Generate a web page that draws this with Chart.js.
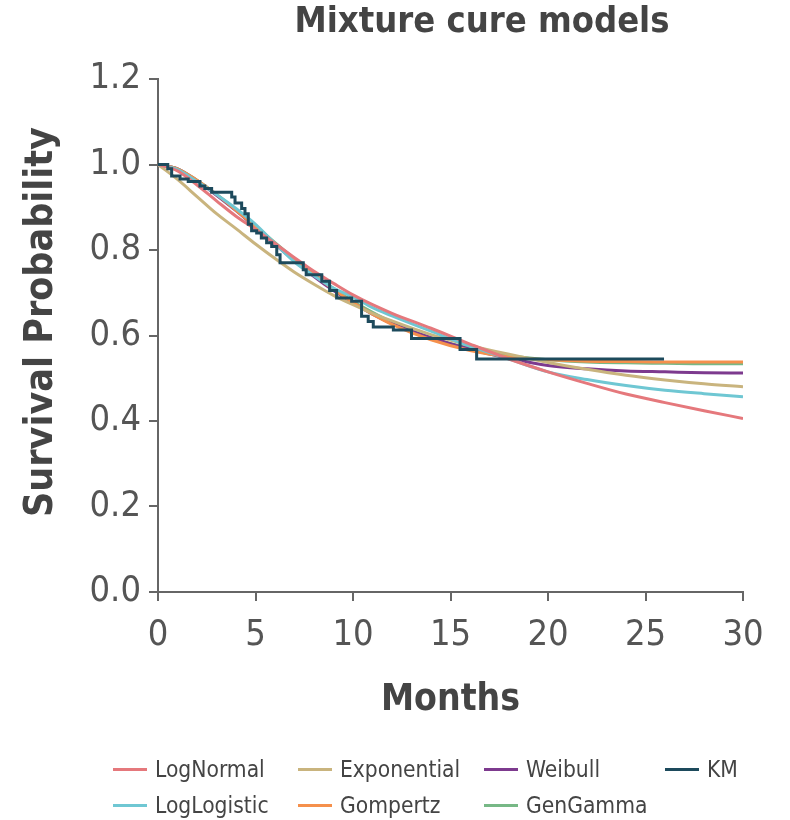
<!DOCTYPE html>
<html>
<head>
<meta charset="utf-8">
<script src="https://cdn.jsdelivr.net/npm/chart.js@4.4.1/dist/chart.umd.min.js"></script>
<style>
    body { margin: 0; background: #fff; }
    #wrap { position: relative; width: 790px; height: 820px; }
    #legend { position: absolute; left: 0; top: 0; width: 790px; height: 820px; pointer-events: none; }
    .item { position: absolute; display: flex; align-items: center; font-family: 'DejaVu Sans Condensed', 'DejaVu Sans', sans-serif; font-size: 22.6px; color: #444; }
    .item span.line { display: inline-block; width: 34px; height: 3px; margin-right: 8px; }
</style>
</head>
<body>
<div id="wrap">
    <canvas id="chart" width="790" height="820"></canvas>
    <div id="legend"></div>
</div>
<script>
// sample times (months) for the fitted curves
const months = [0, 1, 2, 3, 4, 5, 6, 7, 8, 9, 10, 11, 12, 14, 16, 18, 20, 22, 24, 26, 28, 30];

const logNormal   = [1, 0.985, 0.952, 0.915, 0.879, 0.848, 0.815, 0.782, 0.75, 0.722, 0.695, 0.672, 0.652, 0.617, 0.58, 0.545, 0.515, 0.488, 0.463, 0.443, 0.424, 0.406];
const logLogistic = [1, 0.988, 0.96, 0.93, 0.897, 0.86, 0.815, 0.772, 0.74, 0.711, 0.69, 0.665, 0.646, 0.61, 0.575, 0.545, 0.515, 0.497, 0.483, 0.472, 0.464, 0.457];
const exponential = [1, 0.965, 0.925, 0.885, 0.85, 0.814, 0.78, 0.748, 0.72, 0.694, 0.672, 0.652, 0.634, 0.602, 0.577, 0.556, 0.537, 0.521, 0.507, 0.496, 0.487, 0.48];
const gompertz    = [1, 0.99, 0.963, 0.93, 0.893, 0.855, 0.815, 0.778, 0.742, 0.708, 0.677, 0.65, 0.626, 0.59, 0.565, 0.55, 0.543, 0.54, 0.539, 0.538, 0.538, 0.538];
const weibull     = [1, 0.99, 0.962, 0.928, 0.892, 0.853, 0.813, 0.775, 0.738, 0.705, 0.676, 0.65, 0.628, 0.595, 0.568, 0.547, 0.53, 0.522, 0.517, 0.515, 0.513, 0.512];
const genGamma    = [1, 0.99, 0.963, 0.93, 0.894, 0.856, 0.817, 0.779, 0.743, 0.71, 0.68, 0.654, 0.631, 0.595, 0.57, 0.553, 0.543, 0.538, 0.536, 0.535, 0.534, 0.534];

// Kaplan-Meier steps: event times and survival after each event
const kmTimes = [0, 0.5, 0.7, 1.13, 1.55, 2.15, 2.4, 2.75, 3.78, 3.95, 4.29, 4.46, 4.63, 4.8, 5.06, 5.3, 5.57, 5.83, 6.09, 6.26, 7.45, 7.6, 8.4, 8.8, 9.16, 9.93, 10.44, 10.78, 11.04, 12.07, 13.0, 15.49, 16.34, 25.95];
const kmSurv  = [1, 0.99, 0.973, 0.966, 0.96, 0.95, 0.944, 0.935, 0.924, 0.91, 0.897, 0.885, 0.86, 0.845, 0.84, 0.828, 0.817, 0.808, 0.789, 0.77, 0.754, 0.742, 0.727, 0.705, 0.688, 0.68, 0.645, 0.633, 0.62, 0.613, 0.593, 0.567, 0.545, 0.545];

const yTicks = [0, 0.2, 0.4, 0.6, 0.8, 1.0, 1.2];
const xTicks = [0, 5, 10, 15, 20, 25, 30];

function pairs(xs, ys) {
    return xs.map((x, i) => ({ x: x, y: ys[i] }));
}

function curve(label, values, color) {
    return {
        label: label,
        data: pairs(months, values),
        borderColor: color,
        backgroundColor: color,
        borderWidth: 3,
        pointRadius: 0,
        cubicInterpolationMode: 'monotone',
        fill: false
    };
}

const datasets = [
    curve('LogNormal', logNormal, '#e5787c'),
    curve('LogLogistic', logLogistic, '#6fc7d3'),
    curve('Exponential', exponential, '#c9b47e'),
    curve('Gompertz', gompertz, '#f5904c'),
    curve('Weibull', weibull, '#7d3a8e'),
    curve('GenGamma', genGamma, '#77b886'),
    {
        label: 'KM',
        data: pairs(kmTimes, kmSurv),
        borderColor: '#1d4a5c',
        backgroundColor: '#1d4a5c',
        borderWidth: 3,
        pointRadius: 0,
        stepped: 'before',
        order: -1,
        fill: false
    }
];

const fontFamily = "'DejaVu Sans Condensed', 'DejaVu Sans', sans-serif";

// chart title and y axis title drawn as text on the canvas
const titlePlugin = {
    id: 'titles',
    afterDraw(chart) {
        const ctx = chart.ctx;
        ctx.save();
        ctx.fillStyle = '#444';
        ctx.textAlign = 'center';
        ctx.textBaseline = 'middle';
        ctx.font = 'bold 36px ' + fontFamily;
        ctx.fillText('Mixture cure models', 482, 23);
        ctx.font = 'bold 39px ' + fontFamily;
        ctx.translate(42, 322);
        ctx.rotate(-Math.PI / 2);
        ctx.fillText('Survival Probability', 0, 0);
        ctx.restore();
    }
};

const axisColor = '#666';
const tickFont = { family: fontFamily, size: 36 };
const titleFont = { family: fontFamily, size: 37, weight: 'bold' };

const chart = new Chart(document.getElementById('chart'), {
    type: 'line',
    data: { datasets: datasets },
    options: {
        responsive: false,
        animation: false,
        layout: { padding: { top: 79, right: 47, left: 0, bottom: 97 } },
        plugins: {
            legend: { display: false },
            tooltip: { enabled: false }
        },
        scales: {
            x: {
                type: 'linear',
                min: 0,
                max: 30,
                afterFit: s => { s.height = 131; },
                afterBuildTicks: s => { s.ticks = xTicks.map(v => ({ value: v })); },
                ticks: { font: tickFont, color: '#555', padding: 13 },
                grid: { drawOnChartArea: false, tickLength: 9, color: axisColor, lineWidth: 2 },
                border: { color: axisColor, width: 2 },
                title: { display: true, text: 'Months', font: titleFont, color: '#444', padding: 0 }
            },
            y: {
                min: 0,
                max: 1.2,
                afterFit: s => { s.width = 158; },
                afterBuildTicks: s => { s.ticks = yTicks.map(v => ({ value: v })); },
                ticks: { font: tickFont, color: '#555', padding: 8, callback: v => v.toFixed(1) },
                grid: { drawOnChartArea: false, tickLength: 9, color: axisColor, lineWidth: 2 },
                border: { color: axisColor, width: 2 }
            }
        }
    },
    plugins: [titlePlugin]
});

// legend laid out in a 4x2 grid, column-major like the original
const legendCols = [113, 298, 484, 665];
const legendRows = [769, 805];
const legend = document.getElementById('legend');
chart.data.datasets.forEach((ds, i) => {
    const item = document.createElement('div');
    item.className = 'item';
    item.style.left = legendCols[Math.floor(i / 2)] + 'px';
    item.style.top = (legendRows[i % 2] - 15) + 'px';
    item.style.height = '30px';
    const line = document.createElement('span');
    line.className = 'line';
    line.style.background = ds.borderColor;
    item.appendChild(line);
    item.appendChild(document.createTextNode(ds.label));
    legend.appendChild(item);
});
</script>
</body>
</html>
